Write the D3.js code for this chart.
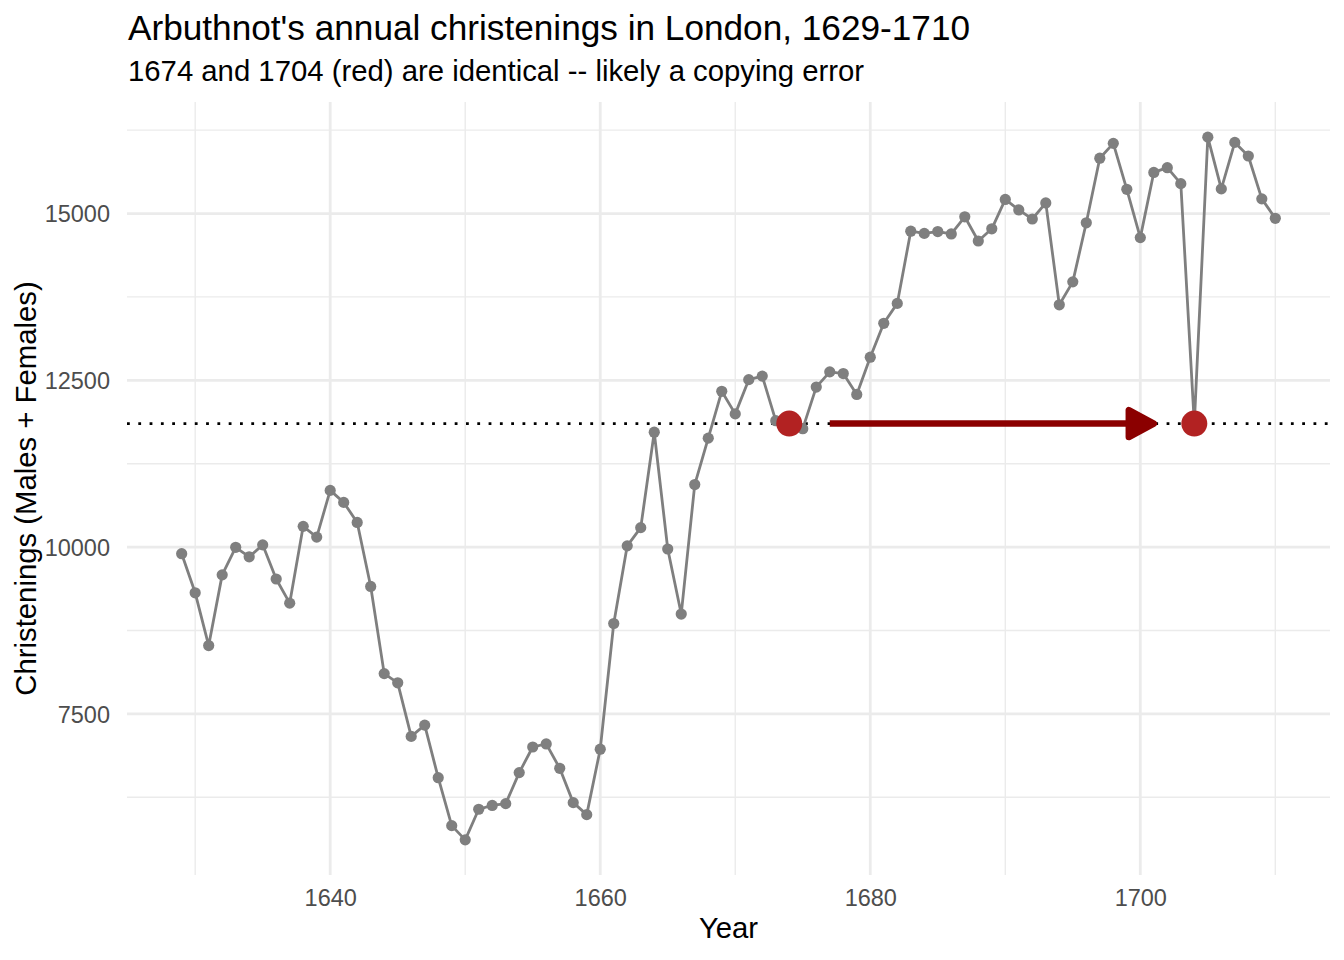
<!DOCTYPE html>
<html>
<head>
<meta charset="utf-8">
<script src="https://cdn.jsdelivr.net/npm/d3@7"></script>
<style>
  html, body { margin: 0; padding: 0; background: #fff; }
  svg { display: block; font-family: "Liberation Sans", Arial, Helvetica, sans-serif; }
</style>
</head>
<body>
<svg id="chart" width="1344" height="960"></svg>
<script>
// ---- Data (Arbuthnot: Males + Females christenings) ----
const years = [1629,1630,1631,1632,1633,1634,1635,1636,1637,1638,1639,1640,1641,1642,1643,1644,1645,1646,1647,1648,1649,1650,1651,1652,1653,1654,1655,1656,1657,1658,1659,1660,1661,1662,1663,1664,1665,1666,1667,1668,1669,1670,1671,1672,1673,1674,1675,1676,1677,1678,1679,1680,1681,1682,1683,1684,1685,1686,1687,1688,1689,1690,1691,1692,1693,1694,1695,1696,1697,1698,1699,1700,1701,1702,1703,1704,1705,1706,1707,1708,1709,1710];
const totals = [9901,9315,8524,9584,9997,9855,10034,9522,9160,10311,10150,10850,10670,10370,9410,8104,7966,7163,7332,6544,5825,5612,6071,6128,6155,6620,7004,7050,6685,6170,5990,6971,8855,10019,10292,11722,9972,8997,10938,11633,12335,11997,12510,12563,11895,11851,11775,12399,12626,12601,12288,12847,13355,13653,14735,14702,14730,14694,14951,14588,14771,15211,15054,14918,15159,13632,13976,14861,15829,16052,15363,14639,15616,15687,15448,11851,16145,15369,16066,15862,15220,14928];
const highlightYears = [1674, 1704];
const hlineValue = 11851;
const arrowFrom = 1677;
const arrowTo = 1701;
const xTicks = [1640, 1660, 1680, 1700];
const xMinor = [1630, 1650, 1670, 1690, 1710];
const yTicks = [7500, 10000, 12500, 15000];
const yMinor = [6250, 8750, 11250, 13750, 16250];
const titleText = "Arbuthnot's annual christenings in London, 1629-1710";
const subtitleText = "1674 and 1704 (red) are identical -- likely a copying error";
const xLabel = "Year";
const yLabel = "Christenings (Males + Females)";

const data = years.map((y, i) => ({ year: y, total: totals[i] }));

// ---- Layout ----
const panel = { left: 127, right: 1330, top: 102, bottom: 875 };
const svg = d3.select("#chart");

const xExt = d3.extent(years), xPad = (xExt[1] - xExt[0]) * 0.05;
const yExt = d3.extent(totals), yPad = (yExt[1] - yExt[0]) * 0.05;
const x = d3.scaleLinear().domain([xExt[0] - xPad, xExt[1] + xPad]).range([panel.left, panel.right]);
const y = d3.scaleLinear().domain([yExt[0] - yPad, yExt[1] + yPad]).range([panel.bottom, panel.top]);

const grid = svg.append("g");
// minor grid
grid.selectAll(".vminor").data(xMinor).join("line")
  .attr("x1", d => x(d)).attr("x2", d => x(d)).attr("y1", panel.top).attr("y2", panel.bottom)
  .attr("stroke", "#EBEBEB").attr("stroke-width", 1.4);
grid.selectAll(".hminor").data(yMinor).join("line")
  .attr("y1", d => y(d)).attr("y2", d => y(d)).attr("x1", panel.left).attr("x2", panel.right)
  .attr("stroke", "#EBEBEB").attr("stroke-width", 1.4);
// major grid
grid.selectAll(".vmajor").data(xTicks).join("line")
  .attr("x1", d => x(d)).attr("x2", d => x(d)).attr("y1", panel.top).attr("y2", panel.bottom)
  .attr("stroke", "#EBEBEB").attr("stroke-width", 2.8);
grid.selectAll(".hmajor").data(yTicks).join("line")
  .attr("y1", d => y(d)).attr("y2", d => y(d)).attr("x1", panel.left).attr("x2", panel.right)
  .attr("stroke", "#EBEBEB").attr("stroke-width", 2.8);

// axes (text only)
const xAxis = d3.axisBottom(x).tickValues(xTicks).tickFormat(d3.format("d")).tickSize(0).tickPadding(0);
const gx = svg.append("g").attr("transform", `translate(0,${panel.bottom})`).call(xAxis);
gx.select(".domain").remove();
gx.selectAll("text").attr("dy", null).attr("y", 31).attr("font-size", 23.5).attr("fill", "#4D4D4D")
  .attr("font-family", "'Liberation Sans', Arial, sans-serif");

const yAxis = d3.axisLeft(y).tickValues(yTicks).tickFormat(d3.format("d")).tickSize(0).tickPadding(0);
const gy = svg.append("g").attr("transform", `translate(${panel.left},0)`).call(yAxis);
gy.select(".domain").remove();
gy.selectAll("text").attr("x", -17).attr("dy", "0.36em").attr("font-size", 23.5).attr("fill", "#4D4D4D")
  .attr("font-family", "'Liberation Sans', Arial, sans-serif");

// dotted reference line
svg.append("line")
  .attr("x1", panel.left).attr("x2", panel.right)
  .attr("y1", y(hlineValue)).attr("y2", y(hlineValue))
  .attr("stroke", "#000").attr("stroke-width", 2.8).attr("stroke-dasharray", "2.8,8.5");

// series line
svg.append("path").datum(data)
  .attr("d", d3.line().x(d => x(d.year)).y(d => y(d.total)))
  .attr("fill", "none").attr("stroke", "#7F7F7F").attr("stroke-width", 2.8).attr("stroke-linejoin", "round");

// points
svg.append("g").selectAll("circle").data(data).join("circle")
  .attr("cx", d => x(d.year)).attr("cy", d => y(d.total)).attr("r", 5.6).attr("fill", "#7F7F7F");

// highlighted points
const hl = data.filter(d => highlightYears.includes(d.year));
svg.append("g").selectAll("circle").data(hl).join("circle")
  .attr("cx", d => x(d.year)).attr("cy", d => y(d.total)).attr("r", 13).attr("fill", "#B22222");

// arrow
const ay = y(hlineValue);
const headLen = 25, headHalf = 13.5;
const tipX = x(arrowTo);
svg.append("line")
  .attr("x1", x(arrowFrom)).attr("x2", tipX - headLen + 2).attr("y1", ay).attr("y2", ay)
  .attr("stroke", "#8B0000").attr("stroke-width", 6.5);
svg.append("path")
  .attr("d", `M${tipX},${ay} L${tipX - headLen},${ay - headHalf} L${tipX - headLen},${ay + headHalf} Z`)
  .attr("fill", "#8B0000").attr("stroke", "#8B0000").attr("stroke-width", 6.5).attr("stroke-linejoin", "round");

// titles
svg.append("text").attr("x", 128).attr("y", 40).attr("font-size", 35.2).attr("fill", "#000").text(titleText);
svg.append("text").attr("x", 128).attr("y", 81).attr("font-size", 29.3).attr("fill", "#000").text(subtitleText);
svg.append("text").attr("x", (panel.left + panel.right) / 2).attr("y", 938).attr("text-anchor", "middle")
  .attr("font-size", 29.3).attr("fill", "#000").text(xLabel);
svg.append("text").attr("transform", `translate(36,${(panel.top + panel.bottom) / 2}) rotate(-90)`)
  .attr("text-anchor", "middle").attr("font-size", 29.3).attr("fill", "#000").text(yLabel);
</script>
</body>
</html>
